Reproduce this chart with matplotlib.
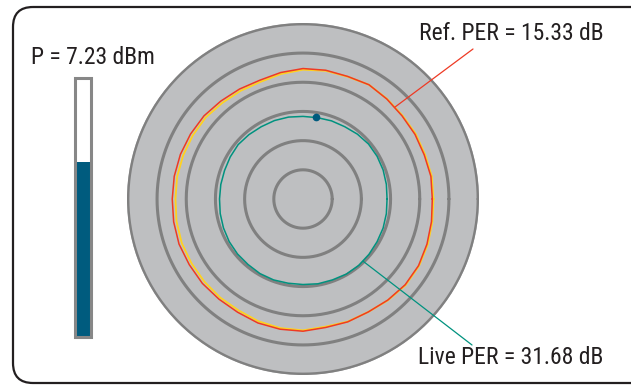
import numpy as np
import matplotlib
matplotlib.use("Agg")
import matplotlib.pyplot as plt
from matplotlib.patches import FancyBboxPatch, Rectangle, ConnectionPatch

# angles (deg) at which the traces were read
angles = [0, 10, 20, 30, 40, 50, 60, 70, 80, 90, 100, 110,
          120, 130, 140, 150, 160, 170, 180, 190, 200, 210, 220, 230,
          240, 250, 260, 270, 280, 290, 300, 310, 320, 330, 340, 350]

# reference trace (red) and its companion (yellow), ring units
ref_r = [4.43, 4.45, 4.42, 4.43, 4.43, 4.47, 4.52, 4.47, 4.48, 4.47, 4.40, 4.33,
         4.35, 4.38, 4.43, 4.45, 4.47, 4.48, 4.48, 4.50, 4.52, 4.50, 4.50, 4.48,
         4.48, 4.52, 4.53, 4.53, 4.47, 4.48, 4.47, 4.52, 4.57, 4.57, 4.52, 4.47]
ref2_r = [4.47, 4.48, 4.45, 4.46, 4.45, 4.48, 4.52, 4.46, 4.46, 4.43, 4.35, 4.27,
          4.28, 4.30, 4.35, 4.36, 4.37, 4.38, 4.37, 4.40, 4.42, 4.41, 4.41, 4.41,
          4.41, 4.46, 4.49, 4.50, 4.44, 4.47, 4.47, 4.53, 4.59, 4.59, 4.55, 4.50]
# live trace (teal)
live_r = [2.88, 2.90, 2.92, 2.93, 2.93, 2.90, 2.86, 2.85, 2.83, 2.83, 2.85, 2.86,
          2.86, 2.88, 2.90, 2.88, 2.86, 2.86, 2.86, 2.88, 2.90, 2.92, 2.93, 2.93,
          2.95, 2.95, 2.93, 2.93, 2.95, 2.95, 2.97, 2.97, 2.95, 2.93, 2.92, 2.90]

marker_deg, marker_r = 81, 2.83
rings = [1, 2, 3, 4, 5, 6]
r_max = 6

power_dbm = 7.23
bar_level = 0.674
ref_per = 15.33
live_per = 31.68

txt_col = "#231F20"
ring_col = "#808080"
font = ["Roboto Condensed", "Archivo Narrow", "DejaVu Sans"]

fig = plt.figure(figsize=(6.31, 3.85), dpi=100)

# overlay axes in pixel units for frame, bar and labels
ax = fig.add_axes([0, 0, 1, 1])
ax.set_xlim(0, 631)
ax.set_ylim(385, 0)
ax.axis("off")

ax.add_patch(FancyBboxPatch((13, 7), 640, 376, boxstyle="round,pad=0,rounding_size=20",
                            fc="none", ec=txt_col, lw=1.6))

# power bar
bx, by, bw, bh = 75, 78, 16, 259
ax.add_patch(Rectangle((bx, by), bw, bh, fc="white", ec="none"))
ax.add_patch(Rectangle((bx, by + bh * (1 - bar_level)), bw, bh * bar_level, fc="#005B7E", ec="none"))
ax.add_patch(Rectangle((bx, by), bw, bh, fc="none", ec="#878787", lw=2.2))
ax.text(93, 57, f"P = {power_dbm:.2f} dBm", ha="center", va="center",
        fontsize=17, color=txt_col, family=font)

# polar display
pax = fig.add_axes([127 / 631, 10 / 385, 352 / 631, 352 / 385], projection="polar")
pax.set_facecolor("#BEBFC1")
pax.set_ylim(0, r_max + 0.03)
pax.set_xticks([])
pax.set_yticks([])
pax.grid(False)
pax.spines["polar"].set_visible(False)

full = np.linspace(0, 2 * np.pi, 361)
for r in rings:
    pax.plot(full, np.full_like(full, r), color=ring_col, lw=2.2, solid_capstyle="round")

th = np.deg2rad(np.append(angles, angles[0]))
pax.plot(th, np.append(ref2_r, ref2_r[0]), color="#FFD21F", lw=1.3)
pax.plot(th, np.append(ref_r, ref_r[0]), color="#EE3A24", lw=1.1)
pax.plot(th, np.append(live_r, live_r[0]), color="#00927F", lw=1.1)
pax.plot(np.deg2rad(marker_deg), marker_r, "o", color="#005B7E", ms=4.5)

# leaders and labels
ref_deg = 45
cp = ConnectionPatch(xyA=(np.deg2rad(ref_deg), np.interp(ref_deg, angles, ref_r)), coordsA=pax.transData,
                     xyB=(473, 49), coordsB=ax.transData, color="#EE3A24", lw=0.9)
fig.add_artist(cp)
live_deg = 314
cp2 = ConnectionPatch(xyA=(np.deg2rad(live_deg), np.interp(live_deg, angles, live_r)), coordsA=pax.transData,
                      xyB=(472, 345), coordsB=ax.transData, color="#00927F", lw=0.9)
fig.add_artist(cp2)

ax.text(511, 33, f"Ref. PER = {ref_per:.2f} dB", ha="center", va="center",
        fontsize=17, color=txt_col, family=font)
ax.text(511, 358, f"Live PER = {live_per:.2f} dB", ha="center", va="center",
        fontsize=17, color=txt_col, family=font)

fig.savefig("out.png", dpi=100)
